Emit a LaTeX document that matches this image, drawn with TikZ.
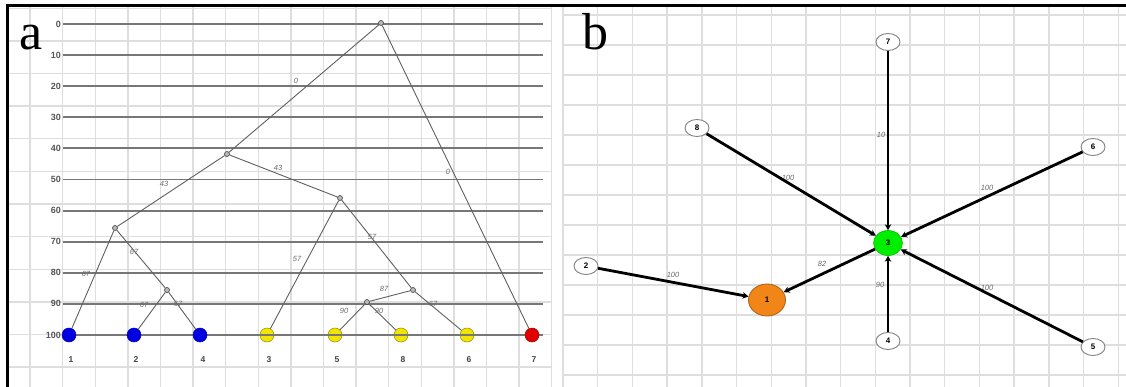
\documentclass[tikz,border=0pt]{standalone}
\usepackage{fontspec}
\setmainfont{Liberation Serif}
\setsansfont{Liberation Sans}
\usetikzlibrary{arrows.meta,shapes.geometric}
\definecolor{gridc}{HTML}{DEDEDE}
\definecolor{levc}{HTML}{777777}
\definecolor{edgec}{HTML}{606060}
\definecolor{labc}{HTML}{555555}
\definecolor{elabc}{HTML}{6A6A6A}
\definecolor{leafblue}{HTML}{0000E0}
\definecolor{leafyel}{HTML}{F2E600}
\definecolor{leafred}{HTML}{E00000}
\definecolor{nodegreen}{HTML}{00EE00}
\definecolor{nodeorange}{HTML}{F28518}
\tikzset{
  gridline/.style={gridc, line width=1.4pt},
  levline/.style={levc, line width=1.9pt},
  axlab/.style={text=labc, font=\sffamily\bfseries\fontsize{9}{9}\selectfont, anchor=east, inner sep=0pt},
  leaflab/.style={text=labc!80!black, font=\sffamily\bfseries\fontsize{8.5}{9}\selectfont, inner sep=0pt},
  treeedge/.style={edgec, line width=0.9pt},
  inner/.style={circle, draw=black!75, fill=gray!55, minimum size=5pt, inner sep=0pt, line width=0.6pt},
  leaf/.style={circle, minimum size=14pt, inner sep=0pt, line width=0.5pt},
  elab/.style={text=elabc, font=\sffamily\itshape\fontsize{7.5}{8}\selectfont, inner sep=0pt},
  netnode/.style={ellipse, draw=gray, fill=white, minimum width=24pt, minimum height=17pt, inner sep=0pt, line width=0.9pt, font=\sffamily\bfseries\fontsize{8}{8}\selectfont},
  netedge/.style={black, line width=2.8pt, -{Stealth[length=6pt,width=6.5pt]}},
  bigletter/.style={font=\rmfamily\fontsize{52}{52}\selectfont, inner sep=0pt, anchor=base west}
}
\begin{document}
\begin{tikzpicture}[x=1pt,y=-1pt]
\useasboundingbox (0,0) rectangle (1126,387);
\fill[white] (0,0) rectangle (1126,387);
% grids
\foreach \k in {0,...,16} \draw[gridline] ({30+32.6*\k},6) -- ({30+32.6*\k},387);
\foreach \k in {0,...,11} \draw[gridline] (8,{367-32.6*\k}) -- (552,{367-32.6*\k});
\foreach \k in {0,...,16} \draw[gridline] ({563+34.7*\k},6) -- ({563+34.7*\k},387);
\foreach \k in {0,...,12} \draw[gridline] (563,{15+30*\k}) -- (1126,{15+30*\k});
% borders
\draw[black, line width=3pt] (6,6) -- (1126,6);
\draw[black, line width=3pt] (7.5,6) -- (7.5,387);
% panel letters
\node[bigletter] (la) at (19,50) {a};
\node[bigletter] (lb) at (582,50) {b};
% level lines
\foreach \v [count=\i from 0] in {0,10,20,30,40,50,60,70,80,90,100} {
  \draw[levline] (63,{24+31.1*\i}) -- (543,{24+31.1*\i});
  \node[axlab] (ax\v) at (61,{24+31.1*\i}) {\v};
}
% tree nodes
\node[inner] (r) at (381,23) {};
\node[inner] (n42) at (227,154) {};
\node[inner] (n56) at (340,198) {};
\node[inner] (n66) at (115,228) {};
\node[inner] (n86a) at (167,290) {};
\node[inner] (n86b) at (413,290) {};
\node[inner] (n90) at (367,302) {};
% tree edges
\draw[treeedge] (r) -- (n42);
\draw[treeedge] (n42) -- (n66);
\draw[treeedge] (n42) -- (n56);
\draw[treeedge] (n66) -- (n86a);
\draw[treeedge] (n56) -- (n86b);
\draw[treeedge] (n86b) -- (n90);
% leaves
\node[leaf, fill=leafblue, draw=leafblue!70!black] (L1) at (69,335) {};
\node[leaf, fill=leafblue, draw=leafblue!70!black] (L2) at (134,335) {};
\node[leaf, fill=leafblue, draw=leafblue!70!black] (L4) at (200,335) {};
\node[leaf, fill=leafyel, draw=leafyel!60!black] (L3) at (267,335) {};
\node[leaf, fill=leafyel, draw=leafyel!60!black] (L5) at (335,335) {};
\node[leaf, fill=leafyel, draw=leafyel!60!black] (L8) at (401,335) {};
\node[leaf, fill=leafyel, draw=leafyel!60!black] (L6) at (467,335) {};
\node[leaf, fill=leafred, draw=leafred!70!black] (L7) at (532,335) {};
\foreach \n in {L3,L5,L8,L6} \draw[levc, line width=1.2pt] (\n.west) -- (\n.east);
\draw[treeedge] (r) -- (L7);
\draw[treeedge] (n66) -- (L1);
\draw[treeedge] (n86a) -- (L2);
\draw[treeedge] (n86a) -- (L4);
\draw[treeedge] (n56) -- (L3);
\draw[treeedge] (n90) -- (L5);
\draw[treeedge] (n90) -- (L8);
\draw[treeedge] (n86b) -- (L6);
% leaf labels
\node[leaflab] (t1) at (71,360) {1};
\node[leaflab] (t2) at (136,360) {2};
\node[leaflab] (t4) at (203,360) {4};
\node[leaflab] (t3) at (269,360) {3};
\node[leaflab] (t5) at (337,360) {5};
\node[leaflab] (t8) at (403,360) {8};
\node[leaflab] (t6) at (469,360) {6};
\node[leaflab] (t7) at (534,360) {7};
% tree edge labels
\node[elab] (e1) at (296,81) {0};
\node[elab] (e2) at (448,172) {0};
\node[elab] (e3) at (164,184) {43};
\node[elab] (e4) at (278,168) {43};
\node[elab] (e5) at (86,274) {67};
\node[elab] (e6) at (134,252) {67};
\node[elab] (e7) at (144,305) {67};
\node[elab] (e8) at (178,304) {67};
\node[elab] (e9) at (297,259) {57};
\node[elab] (e10) at (372,237) {57};
\node[elab] (e11) at (384,289) {87};
\node[elab] (e12) at (433,304) {67};
\node[elab] (e13) at (344,311) {90};
\node[elab] (e14) at (379,311) {90};
% network
\node[netnode] (b7) at (888,42) {7};
\node[netnode] (b8) at (697,128) {8};
\node[netnode] (b6) at (1093,147) {6};
\node[netnode] (b2) at (586,266) {2};
\node[netnode] (b4) at (888,341) {4};
\node[netnode] (b5) at (1093,347) {5};
\node[ellipse, fill=nodegreen, draw=nodegreen!80!black, line width=0.6pt, minimum width=29pt, minimum height=25pt, inner sep=0pt, font=\sffamily\bfseries\fontsize{8}{8}\selectfont] (b3) at (888,243) {3};
\node[ellipse, fill=nodeorange, draw=nodeorange!70!black, line width=0.8pt, minimum width=37pt, minimum height=32pt, inner sep=0pt, font=\sffamily\bfseries\fontsize{8}{8}\selectfont] (b1) at (767,300) {1};
% network edge labels (under the lines)
\node[elab] (f1) at (881,135) {10};
\node[elab] (f2) at (788,178) {100};
\node[elab] (f3) at (987,188) {100};
\node[elab] (f4) at (673,275) {100};
\node[elab] (f5) at (822,264) {82};
\node[elab] (f6) at (880,285) {90};
\node[elab] (f7) at (987,288) {100};
\draw[netedge] (b7) -- (b3);
\draw[netedge] (b8) -- (b3);
\draw[netedge] (b6) -- (b3);
\draw[netedge] (b4) -- (b3);
\draw[netedge] (b5) -- (b3);
\draw[netedge] (b2) -- (b1);
\draw[netedge] (b3) -- (b1);
\end{tikzpicture}
\end{document}
